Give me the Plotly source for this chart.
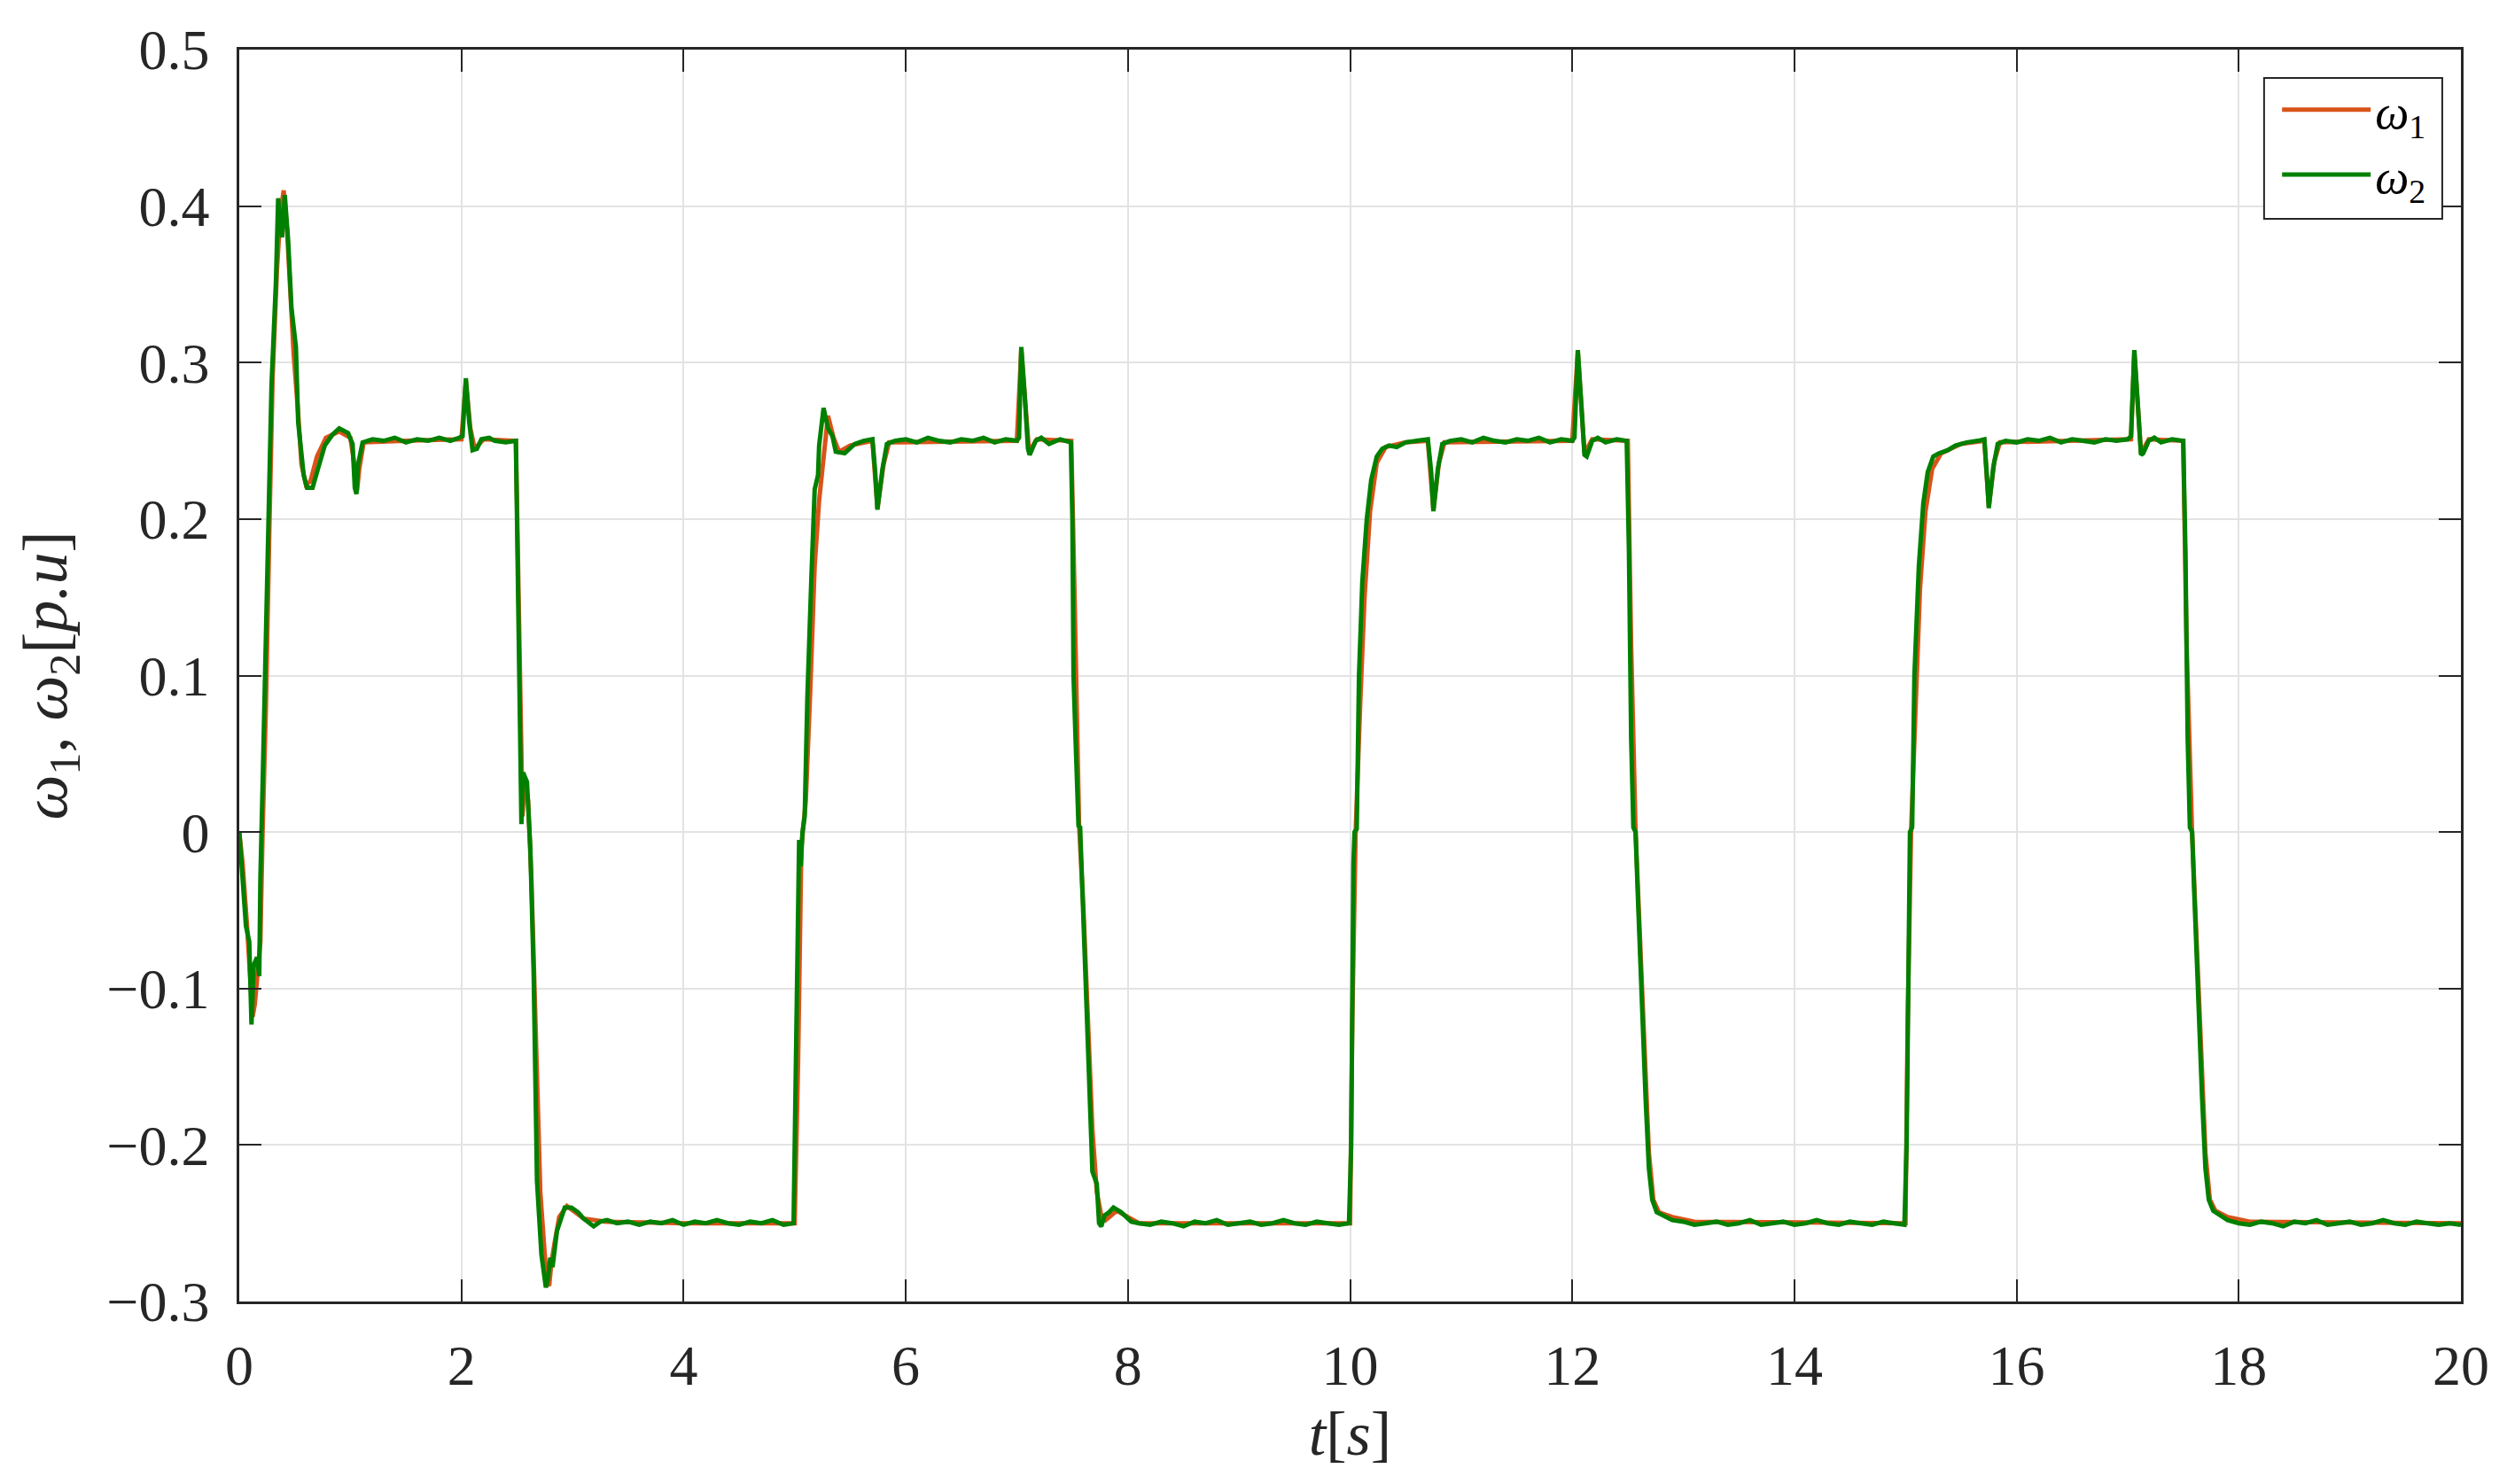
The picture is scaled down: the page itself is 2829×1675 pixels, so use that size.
import plotly.graph_objects as go

# omega_2 (green), one block per segment
t_w2 = [
    0, 0.03, 0.06, 0.09, 0.11, 0.13, 0.16, 0.18, 0.19, 0.21,
    0.23, 0.26, 0.29, 0.33, 0.35, 0.37, 0.385, 0.41, 0.44, 0.47,
    0.51, 0.53, 0.58, 0.61, 0.66, 0.72, 0.77, 0.84, 0.9, 0.98,
    1.02, 1.04, 1.055, 1.07, 1.11, 1.2, 1.3, 1.4, 1.5, 1.6,
    1.7, 1.8, 1.9, 1.98, 2.01, 2.04, 2.07, 2.10, 2.14, 2.18,
    2.25, 2.3, 2.4, 2.49,
    2.52, 2.54, 2.555, 2.59, 2.62, 2.65, 2.68, 2.72, 2.76, 2.78,
    2.80, 2.82, 2.86, 2.93, 2.99, 3.05, 3.10, 3.19, 3.25, 3.31,
    3.4, 3.5, 3.6, 3.7, 3.8, 3.9, 4.0, 4.1, 4.2, 4.3,
    4.4, 4.5, 4.6, 4.7, 4.8, 4.9, 4.99,
    5.02, 5.04, 5.055, 5.07, 5.09, 5.114, 5.15, 5.18, 5.21, 5.22,
    5.26, 5.30, 5.34, 5.37, 5.45, 5.54, 5.62, 5.70, 5.725, 5.745,
    5.79, 5.83, 5.9, 6.0, 6.1, 6.2, 6.3, 6.4, 6.5, 6.6,
    6.7, 6.8, 6.9, 7.0, 7.02, 7.04, 7.07, 7.10, 7.115, 7.17,
    7.22, 7.29, 7.39, 7.486,
    7.50, 7.51, 7.53, 7.555, 7.57, 7.59, 7.62, 7.66, 7.68, 7.72,
    7.74, 7.76, 7.79, 7.83, 7.87, 7.94, 8.03, 8.1, 8.2, 8.3,
    8.4, 8.5, 8.6, 8.7, 8.8, 8.9, 9.0, 9.1, 9.2, 9.3,
    9.4, 9.5, 9.6, 9.7, 9.8, 9.9, 9.99,
    10.01, 10.03, 10.04, 10.06, 10.08, 10.11, 10.15, 10.19, 10.24, 10.29,
    10.35, 10.42, 10.5, 10.6, 10.7, 10.73, 10.75, 10.79, 10.83, 10.9,
    11.0, 11.1, 11.2, 11.3, 11.4, 11.5, 11.6, 11.7, 11.8, 11.9,
    12.0, 12.02, 12.05, 12.08, 12.11, 12.13, 12.18, 12.23, 12.3, 12.4,
    12.49,
    12.51, 12.53, 12.55, 12.57, 12.59, 12.62, 12.66, 12.69, 12.72, 12.76,
    12.82, 12.9, 13.0, 13.1, 13.2, 13.3, 13.4, 13.5, 13.6, 13.7,
    13.8, 13.9, 14.0, 14.1, 14.2, 14.3, 14.4, 14.5, 14.6, 14.7,
    14.8, 14.9, 14.99,
    15.01, 15.03, 15.04, 15.06, 15.08, 15.12, 15.16, 15.2, 15.25, 15.3,
    15.38, 15.45, 15.55, 15.65, 15.71, 15.73, 15.75, 15.79, 15.83, 15.9,
    16.0, 16.1, 16.2, 16.3, 16.4, 16.5, 16.6, 16.7, 16.8, 16.9,
    17.0, 17.03, 17.06, 17.09, 17.12, 17.14, 17.19, 17.24, 17.3, 17.4,
    17.5,
    17.52, 17.54, 17.56, 17.58, 17.60, 17.63, 17.67, 17.70, 17.73, 17.77,
    17.83, 17.9, 18.0, 18.1, 18.2, 18.3, 18.4, 18.5, 18.6, 18.7,
    18.8, 18.9, 19.0, 19.1, 19.2, 19.3, 19.4, 19.5, 19.6, 19.7,
    19.8, 19.9, 20.0,
]
w2 = [
    0, -0.03, -0.06, -0.07, -0.123, -0.085, -0.08, -0.092, -0.03, 0.03,
    0.09, 0.18, 0.285, 0.352, 0.405, 0.39, 0.38, 0.407, 0.378, 0.335,
    0.31, 0.262, 0.228, 0.220, 0.220, 0.235, 0.247, 0.254, 0.258, 0.255,
    0.248, 0.22, 0.216, 0.235, 0.249, 0.251, 0.250, 0.252, 0.249, 0.251,
    0.250, 0.252, 0.250, 0.252, 0.253, 0.290, 0.262, 0.244, 0.245, 0.251,
    0.252, 0.250, 0.249, 0.250,
    0.107, 0.005, 0.038, 0.032, -0.01, -0.09, -0.223, -0.27, -0.291, -0.285,
    -0.272, -0.278, -0.255, -0.240, -0.240, -0.243, -0.247, -0.252, -0.249, -0.248,
    -0.250, -0.249, -0.251, -0.249, -0.250, -0.248, -0.251, -0.249, -0.250, -0.248,
    -0.250, -0.251, -0.249, -0.250, -0.248, -0.251, -0.250,
    -0.12, -0.005, -0.022, 0.0, 0.01, 0.086, 0.162, 0.219, 0.228, 0.247,
    0.271, 0.258, 0.253, 0.243, 0.242, 0.248, 0.250, 0.251, 0.230, 0.206,
    0.232, 0.248, 0.250, 0.251, 0.249, 0.252, 0.250, 0.249, 0.251, 0.250,
    0.252, 0.249, 0.251, 0.250, 0.252, 0.310, 0.280, 0.245, 0.241, 0.250,
    0.252, 0.248, 0.251, 0.249,
    0.2, 0.1, 0.056, 0.004, 0.003, -0.034, -0.1, -0.166, -0.217, -0.225,
    -0.250, -0.252, -0.245, -0.243, -0.240, -0.243, -0.249, -0.250, -0.251, -0.249,
    -0.250, -0.252, -0.249, -0.250, -0.248, -0.251, -0.250, -0.249, -0.251, -0.250,
    -0.248, -0.250, -0.251, -0.249, -0.250, -0.251, -0.250,
    -0.20, -0.02, 0.0, 0.002, 0.1, 0.16, 0.2, 0.225, 0.24, 0.245,
    0.247, 0.246, 0.249, 0.250, 0.251, 0.23, 0.205, 0.232, 0.248, 0.250,
    0.251, 0.249, 0.252, 0.250, 0.249, 0.251, 0.250, 0.252, 0.249, 0.251,
    0.250, 0.252, 0.308, 0.275, 0.241, 0.240, 0.250, 0.252, 0.249, 0.251,
    0.250,
    0.18, 0.06, 0.003, 0.0, -0.04, -0.1, -0.17, -0.215, -0.235, -0.243,
    -0.245, -0.248, -0.249, -0.251, -0.250, -0.249, -0.251, -0.250, -0.248, -0.251,
    -0.250, -0.249, -0.251, -0.250, -0.248, -0.250, -0.251, -0.249, -0.250, -0.251,
    -0.249, -0.250, -0.251,
    -0.2, -0.02, 0.0, 0.003, 0.1, 0.17, 0.21, 0.23, 0.24, 0.242,
    0.244, 0.247, 0.249, 0.250, 0.251, 0.23, 0.207, 0.233, 0.248, 0.250,
    0.249, 0.251, 0.250, 0.252, 0.249, 0.251, 0.250, 0.249, 0.251, 0.250,
    0.251, 0.253, 0.308, 0.275, 0.241, 0.242, 0.250, 0.252, 0.249, 0.251,
    0.250,
    0.18, 0.06, 0.003, 0.0, -0.04, -0.1, -0.17, -0.215, -0.235, -0.242,
    -0.245, -0.248, -0.250, -0.251, -0.249, -0.250, -0.252, -0.249, -0.250, -0.248,
    -0.251, -0.250, -0.249, -0.251, -0.250, -0.248, -0.250, -0.251, -0.249, -0.250,
    -0.251, -0.250, -0.251,
]

# omega_1 (orange), mostly hidden under omega_2 except at the edges
t_w1 = [
    0, 0.03, 0.07, 0.10, 0.12, 0.14, 0.17, 0.19, 0.21, 0.24,
    0.27, 0.30, 0.34, 0.37, 0.40, 0.43, 0.46, 0.49, 0.53, 0.56,
    0.60, 0.64, 0.70, 0.78, 0.9, 1.0, 1.03, 1.06, 1.08, 1.12,
    1.5, 2.0, 2.04, 2.08, 2.12, 2.2, 2.49,
    2.52, 2.55, 2.57, 2.60, 2.63, 2.67, 2.71, 2.75, 2.77, 2.79,
    2.81, 2.84, 2.88, 2.95, 3.1, 3.3, 4.0, 5.0,
    5.03, 5.06, 5.10, 5.14, 5.18, 5.22, 5.26, 5.30, 5.35, 5.40,
    5.50, 5.70, 5.745, 5.80, 5.85, 7.0, 7.04, 7.11, 7.18, 7.49,
    7.52, 7.56, 7.60, 7.64, 7.68, 7.72, 7.76, 7.80, 7.90, 8.1, 10.0,
    10.02, 10.05, 10.09, 10.13, 10.18, 10.24, 10.32, 10.5, 10.7, 10.75,
    10.8, 10.85, 12.0, 12.05, 12.11, 12.18, 12.5,
    12.53, 12.57, 12.61, 12.65, 12.69, 12.73, 12.78, 12.9, 13.1, 15.0,
    15.02, 15.05, 15.09, 15.13, 15.18, 15.24, 15.32, 15.5, 15.71, 15.75,
    15.8, 15.85, 17.03, 17.06, 17.12, 17.19, 17.5,
    17.53, 17.58, 17.62, 17.66, 17.70, 17.74, 17.79, 17.9, 18.1, 20.0,
]
w1 = [
    0, -0.02, -0.06, -0.10, -0.118, -0.11, -0.085, -0.07, 0.0, 0.08,
    0.19, 0.29, 0.36, 0.395, 0.410, 0.385, 0.345, 0.305, 0.268, 0.235,
    0.222, 0.224, 0.240, 0.252, 0.256, 0.252, 0.238, 0.218, 0.232, 0.249,
    0.250, 0.251, 0.288, 0.258, 0.245, 0.251, 0.250,
    0.12, 0.01, 0.035, 0.02, -0.03, -0.13, -0.23, -0.27, -0.288, -0.29,
    -0.275, -0.262, -0.246, -0.239, -0.247, -0.249, -0.250, -0.250,
    -0.15, -0.01, 0.02, 0.09, 0.17, 0.212, 0.240, 0.266, 0.252, 0.243,
    0.247, 0.250, 0.207, 0.235, 0.249, 0.250, 0.308, 0.243, 0.251, 0.250,
    0.15, 0.005, -0.05, -0.12, -0.19, -0.23, -0.245, -0.248, -0.242, -0.250, -0.250,
    -0.12, 0.0, 0.08, 0.15, 0.205, 0.236, 0.246, 0.249, 0.250, 0.206,
    0.236, 0.249, 0.250, 0.307, 0.242, 0.251, 0.250,
    0.12, 0.0, -0.07, -0.15, -0.205, -0.235, -0.243, -0.246, -0.249, -0.250,
    -0.12, 0.0, 0.08, 0.155, 0.205, 0.232, 0.242, 0.248, 0.250, 0.208,
    0.237, 0.249, 0.251, 0.307, 0.242, 0.251, 0.250,
    0.12, 0.0, -0.07, -0.15, -0.205, -0.235, -0.242, -0.246, -0.249, -0.250,
]

assert len(t_w1) == len(w1) and len(t_w2) == len(w2)

x_ticks = [0, 2, 4, 6, 8, 10, 12, 14, 16, 18, 20]
y_ticks = [-0.3, -0.2, -0.1, 0, 0.1, 0.2, 0.3, 0.4, 0.5]
y_labels = ["−0.3", "−0.2", "−0.1", "0", "0.1", "0.2", "0.3", "0.4", "0.5"]

font_family = "Liberation Serif, DejaVu Serif, serif"
axis_col = "#262626"

fig = go.Figure()
fig.add_trace(go.Scatter(x=t_w1, y=w1, mode="lines", name="<i>ω</i><sub>1</sub>",
                         line=dict(color="#D95319", width=5)))
fig.add_trace(go.Scatter(x=t_w2, y=w2, mode="lines", name="<i>ω</i><sub>2</sub>",
                         line=dict(color="#008000", width=5)))

axis_common = dict(showline=True, linecolor=axis_col, linewidth=2.5, mirror="allticks",
                   ticks="inside", ticklen=25, tickwidth=2, tickcolor=axis_col,
                   showgrid=True, gridcolor="#e3e3e3", gridwidth=2, zeroline=False,
                   ticklabeloverflow="allow",
                   tickfont=dict(family=font_family, size=64, color=axis_col))

fig.update_xaxes(range=[0, 20], tickvals=x_ticks, ticklabelstandoff=14,
                 title=dict(text="<i>t</i>[<i>s</i>]", font=dict(family=font_family, size=70, color=axis_col),
                            standoff=18),
                 **axis_common)
fig.update_yaxes(range=[-0.3, 0.5], tickvals=y_ticks, ticktext=y_labels, ticklabelstandoff=18,
                 title=dict(text="<i>ω</i><sub>1</sub>, <i>ω</i><sub>2</sub>[<i>p.u</i>]",
                            font=dict(family=font_family, size=72, color=axis_col), standoff=22),
                 **axis_common)

# legend frame drawn as an opaque box, legend entries sit on top of it
fig.add_shape(type="rect", xref="paper", yref="paper",
              x0=0.9114, x1=0.9916, y0=0.8648, y1=0.9774,
              line=dict(color=axis_col, width=2), fillcolor="white", layer="above")

# page body has an 8px margin, so the figure is a bit smaller than the window
fig.update_layout(
    width=2813, height=1659,
    margin=dict(l=262, r=31, t=48, b=198),
    paper_bgcolor="white", plot_bgcolor="white",
    showlegend=True,
    legend=dict(x=0.9175, y=0.9815, xanchor="left", yanchor="top",
                bgcolor="rgba(0,0,0,0)", borderwidth=0,
                font=dict(family=font_family, size=54, color="black"),
                itemwidth=100, tracegroupgap=0),
)

fig.write_html("out.html")
